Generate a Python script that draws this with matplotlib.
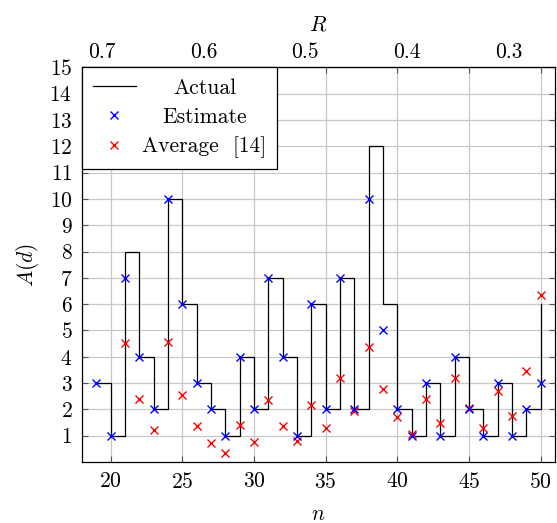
import numpy as np
import matplotlib
matplotlib.use('agg')
import matplotlib.pyplot as plt

# block lengths and weight data
n_vals = list(range(19, 51))
actual = [3, 1, 8, 4, 2, 10, 6, 3, 2, 1, 4, 2, 7, 4, 1, 6,
          2, 7, 2, 12, 6, 2, 1, 3, 1, 4, 2, 1, 3, 1, 2, 6]
estimate = [3, 1, 7, 4, 2, 10, 6, 3, 2, 1, 4, 2, 7, 4, 1, 6,
            2, 7, 2, 10, 5, 2, 1, 3, 1, 4, 2, 1, 3, 1, 2, 3]
avg_n = list(range(21, 51))
average = [4.53, 2.40, 1.23, 4.58, 2.55, 1.38, 0.72, 0.35, 1.42, 0.77,
           2.37, 1.38, 0.78, 2.17, 1.30, 3.18, 1.95, 4.37, 2.76, 1.72,
           1.06, 2.38, 1.48, 3.18, 2.04, 1.30, 2.69, 1.75, 3.44, 6.33]
r_ticks = [0.7, 0.6, 0.5, 0.4, 0.3]

plt.rcParams['font.family'] = 'serif'
plt.rcParams['font.serif'] = ['cmr10']
plt.rcParams['mathtext.fontset'] = 'cm'
plt.rcParams['axes.unicode_minus'] = False
plt.rcParams['axes.formatter.use_mathtext'] = True
fs = 15.5

fig = plt.figure(figsize=(5.57, 5.23), dpi=100)
ax = fig.add_axes([0.1472, 0.1166, 0.8492, 0.7547])

ax.step(n_vals, actual, where='post', color='black', linewidth=0.9, label='Actual')
ax.plot(avg_n, average, 'x', color='red', markersize=6, markeredgewidth=1.0)
ax.plot(n_vals, estimate, 'x', color='blue', markersize=6, markeredgewidth=1.0, label='Estimate')
ax.plot([], [], 'x', color='red', markersize=6, markeredgewidth=1.0, label='Average  [14]')

ax.set_xlim(18, 51)
ax.set_ylim(0, 15)
ax.set_xticks(range(20, 51, 5))
ax.set_yticks(range(1, 16))
ax.grid(True, color='#c8c8c8', linewidth=0.9)
ax.set_axisbelow(True)
ax.tick_params(direction='in', length=4, width=0.8, labelsize=fs, pad=7,
               top=True, right=True, color='#555555')
for s in ax.spines.values():
    s.set_linewidth(0.9)

ax.set_xlabel('$n$', fontsize=fs, labelpad=9)
ax.set_ylabel('$A(d)$', fontsize=fs, labelpad=6)

def n_to_r(n):
    return 0.5 - (np.asarray(n) - 33.58) / 71.1

def r_to_n(r):
    return 33.58 - 71.1 * (np.asarray(r) - 0.5)

sec = ax.secondary_xaxis('top', functions=(n_to_r, r_to_n))
sec.set_xticks(r_ticks)
sec.set_xticklabels([str(r) for r in r_ticks])
sec.tick_params(length=0, labelsize=fs, pad=3.5)
sec.set_xlabel('$R$', fontsize=fs, labelpad=9)

leg = ax.legend(loc='upper left', bbox_to_anchor=(0, 1), borderaxespad=0,
                fancybox=False, framealpha=1, edgecolor='black', fontsize=fs,
                handlelength=2.0, handletextpad=0.3, labelspacing=0.45, borderpad=0.5)
leg.get_frame().set_linewidth(0.9)

# centre the legend labels like pgfplots does
fig.canvas.draw()
renderer = fig.canvas.get_renderer()
widths = [t.get_window_extent(renderer).width * 72.0 / fig.dpi for t in leg.get_texts()]
wmax = max(widths)
items = leg._legend_handle_box.get_children()[0].get_children()
for item, w in zip(items, widths):
    item.sep = item.sep + (wmax - w) / 2.0

plt.savefig('out.png', dpi=100)
plt.close()
